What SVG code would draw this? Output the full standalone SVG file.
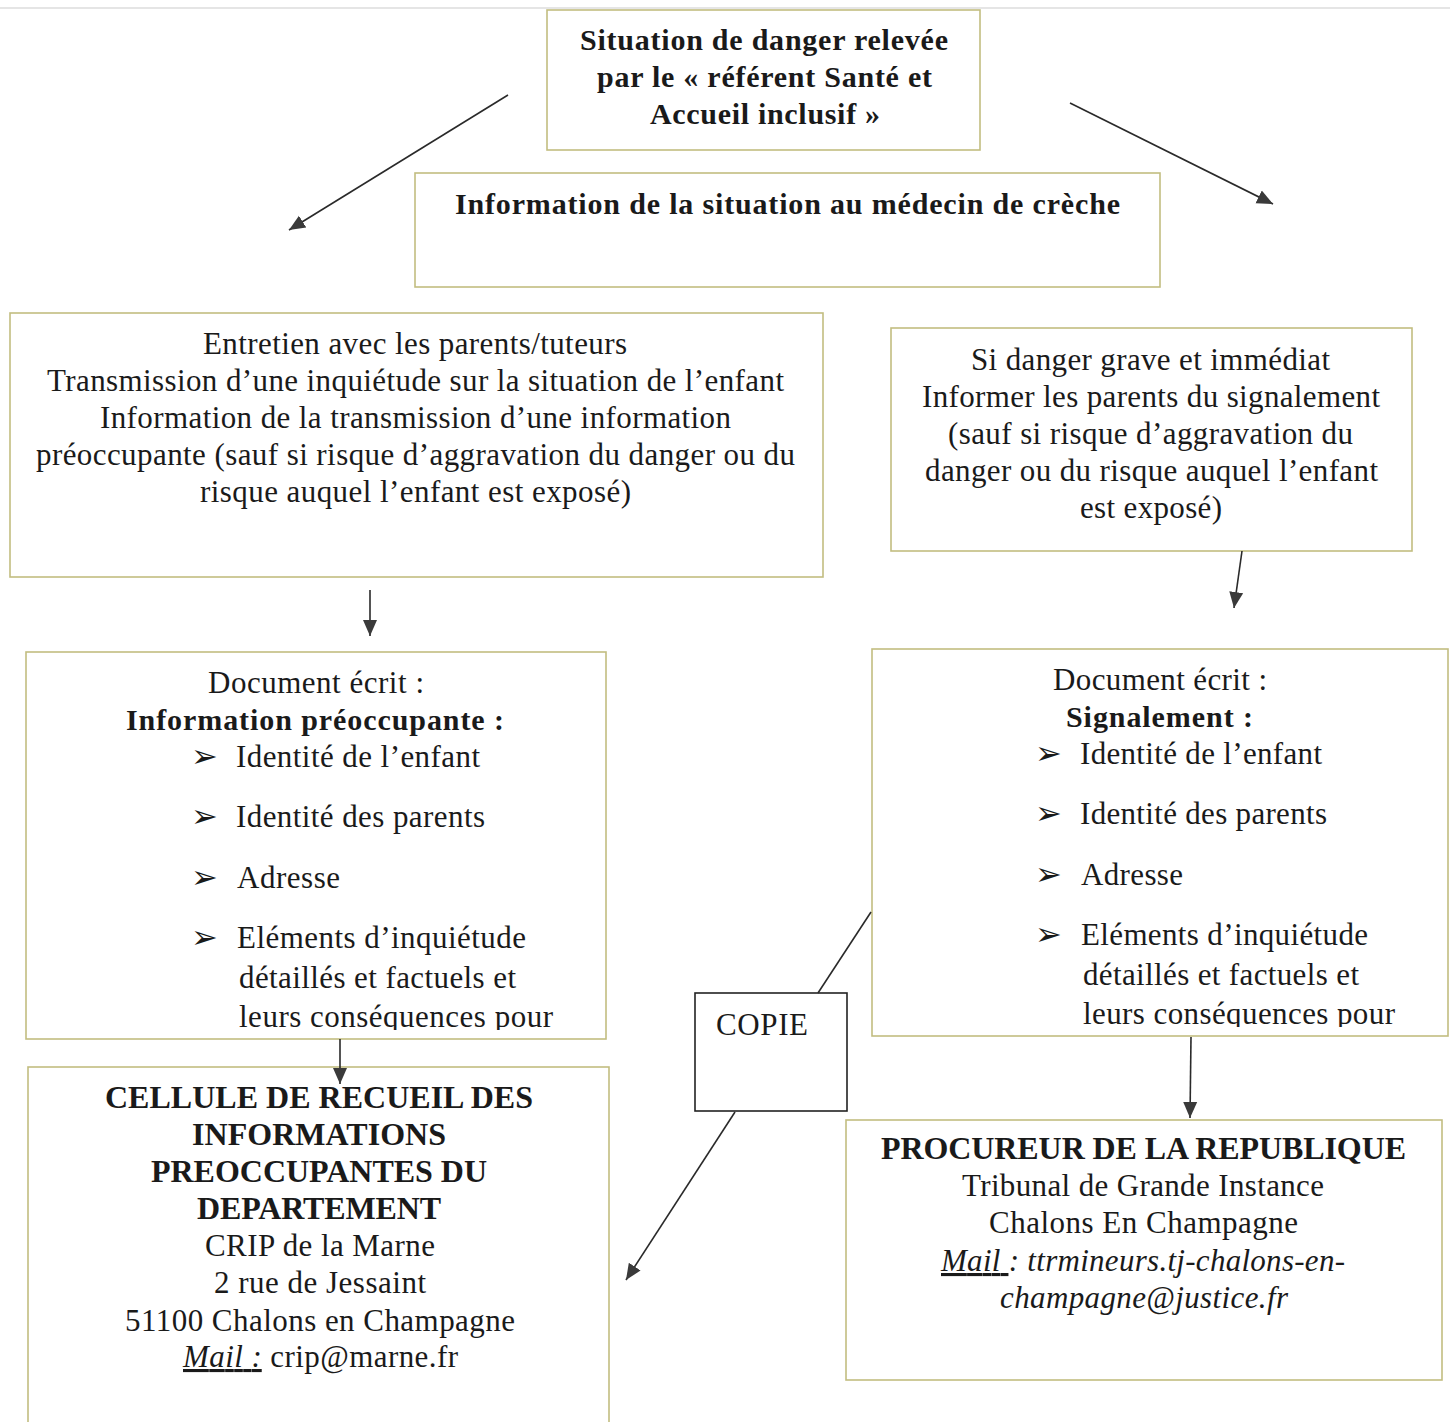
<svg xmlns="http://www.w3.org/2000/svg" width="1450" height="1422" viewBox="0 0 1450 1422">
<defs>
<style>
.box{fill:#fff;stroke:#c2bd80;stroke-width:1.6}
.copie{fill:#fff;stroke:#222;stroke-width:1.6}
text{font-family:"Liberation Serif","Times New Roman",serif;fill:#1a1a1a;font-size:31px}
.b{font-weight:bold;font-size:30px}
.bc{font-size:32px}
.i{font-style:italic}
.u{text-decoration:underline}
.bl{font-size:32px}
.con{stroke:#2a2a2a;stroke-width:1.6;fill:none}
</style>
<marker id="ah" markerUnits="userSpaceOnUse" markerWidth="20" markerHeight="18" refX="16" refY="9" orient="auto">
<path d="M0,2 L16,9 L0,16 Z" fill="#3a3a3a"/>
</marker>
<clipPath id="clipL"><rect x="26" y="652" width="580" height="378"/></clipPath>
<clipPath id="clipR"><rect x="872" y="649" width="576" height="378"/></clipPath>
</defs>
<rect width="1450" height="1422" fill="#fff"/>
<line x1="0" y1="8" x2="1450" y2="8" stroke="#dcdcdc" stroke-width="1.5"/>

<g id="n-situation">
<rect class="box" x="547" y="10" width="433" height="140"/>
<text class="b" x="580" y="50" textLength="368">Situation de danger relevée</text>
<text class="b" x="597" y="87" textLength="335">par le « référent Santé et</text>
<text class="b" x="650" y="124" textLength="230">Accueil inclusif »</text>
</g>

<g id="n-information">
<rect class="box" x="415" y="173" width="745" height="114"/>
<text class="b" x="455" y="214" textLength="665">Information de la situation au médecin de crèche</text>
</g>

<g id="n-entretien">
<rect class="box" x="10" y="313" width="813" height="264"/>
<text x="203" y="354" textLength="424">Entretien avec les parents/tuteurs</text>
<text x="47" y="391" textLength="737">Transmission d’une inquiétude sur la situation de l’enfant</text>
<text x="100" y="428" textLength="631">Information de la transmission d’une information</text>
<text x="36" y="465" textLength="759">préoccupante (sauf si risque d’aggravation du danger ou du</text>
<text x="200" y="502" textLength="431">risque auquel l’enfant est exposé)</text>
</g>

<g id="n-danger">
<rect class="box" x="891" y="328" width="521" height="223"/>
<text x="971" y="370" textLength="359">Si danger grave et immédiat</text>
<text x="922" y="407" textLength="458">Informer les parents du signalement</text>
<text x="948" y="444" textLength="405">(sauf si risque d’aggravation du</text>
<text x="925" y="481" textLength="453">danger ou du risque auquel l’enfant</text>
<text x="1080" y="518" textLength="142">est exposé)</text>
</g>

<g id="n-doc-ip">
<rect class="box" x="26" y="652" width="580" height="387"/>
<g clip-path="url(#clipL)">
<text x="208" y="693" textLength="216">Document écrit :</text>
<text class="b" x="126" y="730" textLength="378">Information préoccupante :</text>
<text class="bl" x="191" y="767">➢</text>
<text x="236" y="767" textLength="244">Identité de l’enfant</text>
<text class="bl" x="191" y="827">➢</text>
<text x="236" y="827" textLength="249">Identité des parents</text>
<text class="bl" x="191" y="888">➢</text>
<text x="237" y="888" textLength="103">Adresse</text>
<text class="bl" x="191" y="948">➢</text>
<text x="237" y="948" textLength="289">Eléments d’inquiétude</text>
<text x="239" y="988" textLength="277">détaillés et factuels et</text>
<text x="239" y="1027" textLength="314">leurs conséquences pour</text>
</g>
</g>

<g id="n-doc-sig">
<rect class="box" x="872" y="649" width="576" height="387"/>
<g clip-path="url(#clipR)">
<text x="1053" y="690" textLength="214">Document écrit :</text>
<text class="b" x="1066" y="727" textLength="187">Signalement :</text>
<text class="bl" x="1035" y="764">➢</text>
<text x="1080" y="764" textLength="242">Identité de l’enfant</text>
<text class="bl" x="1035" y="824">➢</text>
<text x="1080" y="824" textLength="247">Identité des parents</text>
<text class="bl" x="1035" y="885">➢</text>
<text x="1081" y="885" textLength="102">Adresse</text>
<text class="bl" x="1035" y="945">➢</text>
<text x="1081" y="945" textLength="287">Eléments d’inquiétude</text>
<text x="1083" y="985" textLength="276">détaillés et factuels et</text>
<text x="1083" y="1024" textLength="312">leurs conséquences pour</text>
</g>
</g>

<g id="n-copie">
<rect class="copie" x="695" y="993" width="152" height="118"/>
<text x="716" y="1035" textLength="92">COPIE</text>
</g>

<g id="n-crip">
<rect class="box" x="28" y="1067" width="581" height="370"/>
<text class="b bc" x="105" y="1108" textLength="428">CELLULE DE RECUEIL DES</text>
<text class="b bc" x="192" y="1145" textLength="254">INFORMATIONS</text>
<text class="b bc" x="151" y="1182" textLength="336">PREOCCUPANTES DU</text>
<text class="b bc" x="197" y="1219" textLength="244">DEPARTEMENT</text>
<text x="205" y="1256" textLength="230">CRIP de la Marne</text>
<text x="214" y="1293" textLength="212">2 rue de Jessaint</text>
<text x="125" y="1331" textLength="390">51100 Chalons en Champagne</text>
<text x="183" y="1367" textLength="275"><tspan class="i u">Mail :</tspan> crip@marne.fr</text>
</g>

<g id="n-procureur">
<rect class="box" x="846" y="1120" width="596" height="260"/>
<text class="b bc" x="881" y="1159" textLength="525">PROCUREUR DE LA REPUBLIQUE</text>
<text x="962" y="1196" textLength="362">Tribunal de Grande Instance</text>
<text x="989" y="1233" textLength="309">Chalons En Champagne</text>
<text class="i" x="941" y="1271" textLength="404"><tspan class="u">Mail </tspan>: ttrmineurs.tj-chalons-en-</text>
<text class="i" x="1000" y="1308" textLength="288">champagne@justice.fr</text>
</g>

<g id="connectors">
<line class="con" x1="508" y1="95" x2="289" y2="230" marker-end="url(#ah)"/>
<line class="con" x1="1070" y1="103" x2="1273" y2="204" marker-end="url(#ah)"/>
<line class="con" x1="370" y1="590" x2="370" y2="636" marker-end="url(#ah)"/>
<line class="con" x1="1242" y1="551" x2="1234" y2="608" marker-end="url(#ah)"/>
<line class="con" x1="340" y1="1039" x2="340" y2="1084" marker-end="url(#ah)"/>
<line class="con" x1="1191" y1="1037" x2="1190" y2="1118" marker-end="url(#ah)"/>
<line class="con" x1="871" y1="912" x2="818" y2="993"/>
<line class="con" x1="735" y1="1112" x2="626" y2="1280" marker-end="url(#ah)"/>
</g>
</svg>
